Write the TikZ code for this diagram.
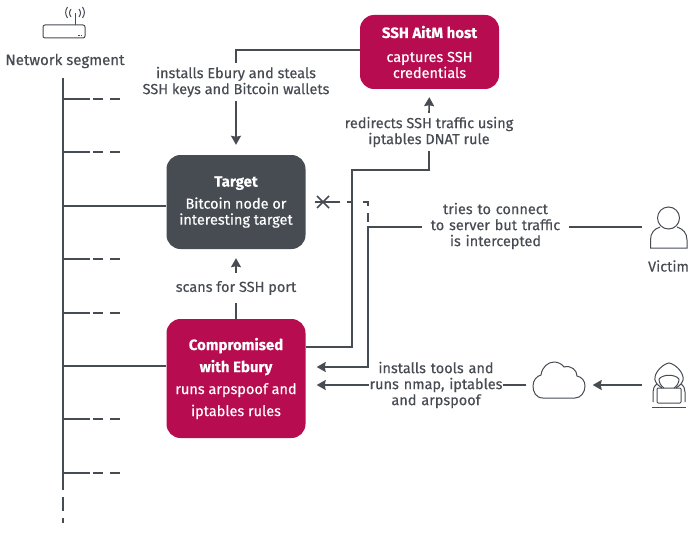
\documentclass[tikz,border=0pt]{standalone}
\usepackage{fontspec}
\setmainfont{Fira Sans}[FakeBold=0.35, BoldFeatures={FakeBold=0.2}]
\usetikzlibrary{arrows.meta}
\definecolor{inkgrey}{HTML}{474B52}
\definecolor{crimson}{HTML}{B70C50}
\newcommand{\boxhead}[1]{{\fontsize{15}{16}\selectfont\bfseries #1}}
\tikzset{
    x=1pt, y=-1pt,
    wire/.style={draw=inkgrey, line width=1.6pt},
    bus/.style={draw=inkgrey, line width=2.2pt},
    stub/.style={wire, dash pattern=on 27pt off 3pt on 10pt off 7pt on 10pt off 100pt},
    arrow/.style={wire, -{Stealth[length=9pt, width=10pt, inset=1pt]}},
    icon/.style={draw=inkgrey, line width=1pt},
    box/.style={rounded corners=14pt, text=white, minimum width=139pt, align=center, font=\fontsize{14.5}{16}\selectfont, inner sep=0pt},
    label/.style={text=inkgrey, align=center, font=\fontsize{14.5}{16}\selectfont, inner sep=0pt},
    spot/.style={inner sep=0pt, minimum height=0pt},
}
\begin{document}
\begin{tikzpicture}
        \useasboundingbox (0, 0) rectangle (700, 532);

        \draw (236, 202) node[box, fill=inkgrey, minimum height=94pt] (target) {\boxhead{Target}\\[6pt]Bitcoin node or\\interesting target};
        \draw (236, 378.5) node[box, fill=crimson, minimum height=119pt, font=\fontsize{14.5}{22}\selectfont] (ebury) {\boxhead{Compromised}\\\boxhead{with Ebury}\\runs arpspoof and\\iptables rules};
        \draw (429.5, 52) node[box, fill=crimson, minimum height=74pt] (aitm) {\boxhead{SSH AitM host}\\[8pt]captures SSH\\credentials};

        \draw (65, 61) node[label, font=\fontsize{15}{16}\selectfont] (segment) {Network segment};
        \draw (236, 82) node[label, minimum height=38pt] (steals) {installs Ebury and steals\\SSH keys and Bitcoin wallets};
        \draw (236, 288) node[label, minimum height=30pt] (scans) {scans for SSH port};
        \draw (429, 132) node[label, minimum height=38pt] (redirects) {redirects SSH traffic using\\iptables DNAT rule};
        \draw (495.5, 226) node[label, text width=147pt] (tries) {tries to connect\\to server but traffic\\is intercepted};
        \draw (436, 385) node[label, text width=134pt] (tools) {installs tools and\\runs nmap, iptables\\and arpspoof};
        \draw (668.5, 266) node[label] (victim) {Victim};

        \draw (559.5, 385) node[spot, minimum width=66pt] (cloud) {};
        \draw (669, 227) node[spot, minimum width=54pt] (person) {};
        \draw (669, 385) node[spot, minimum width=54pt] (hacker) {};

        % network segment
        \coordinate (top) at (63, 78);
        \coordinate (end) at (63, 490);
        \coordinate (tail) at (63, 523);
        \draw[bus] (top) -- (end);
        \draw[bus, dash pattern=on 14pt off 7pt on 12pt off 100pt] (end) ++(0, 7) -- (tail);

        \coordinate (b1) at (63, 99);
        \coordinate (b2) at (63, 152);
        \coordinate (b3) at (63, 206);
        \coordinate (b4) at (63, 259);
        \coordinate (b5) at (63, 313);
        \coordinate (b6) at (63, 366);
        \coordinate (b7) at (63, 419);
        \coordinate (b8) at (63, 473);
        \draw[stub] (b1) -- (120, 99);
        \draw[stub] (b2) -- (120, 152);
        \draw[stub] (b4) -- (120, 259);
        \draw[stub] (b5) -- (120, 313);
        \draw[stub] (b7) -- (120, 419);
        \draw[stub] (b8) -- (120, 473);
        \draw[wire] (b3) -- (target.west |- b3);
        \draw[wire] (b6) -- (ebury.west |- b6);

        % attack flow
        \draw[wire] (aitm.west |- 0, 50) -| (steals.north);
        \draw[arrow, shorten >=10pt] (steals.south) -- (target.north);
        \draw[wire] (ebury.north) -- (scans.south);
        \draw[arrow, shorten >=9pt] (scans.north) -- (target.south);
        \coordinate (bend) at (352, 170);
        \draw[wire] (ebury.east |- 0, 347) -| (bend) -| (redirects.south);
        \draw[arrow, shorten >=8pt] (redirects.north) -- (aitm.south);

        % victim and operator
        \coordinate (drop) at (368, 227);
        \coordinate (stop) at (368, 222);
        \draw[wire] (person.west) -- (tries.east |- person);
        \draw[arrow, shorten >=11pt] (tries.west |- person) -- (drop) |- (ebury.east |- 0, 367);
        \coordinate (cross) at (323, 202);
        \draw[wire, dash pattern=on 17pt off 7pt on 6pt off 10pt on 9pt off 7pt on 9pt off 100pt] (cross) -- (stop |- cross) -- (stop);
        \draw[wire] (cross) ++(-8, 0) -- (cross);
        \draw[wire] (cross) ++(-6, -6) -- ++(12, 12);
        \draw[wire] (cross) ++(-6, 6) -- ++(12, -12);
        \draw[arrow, shorten >=11pt] (tools.west) -- (ebury.east |- tools);
        \draw[wire] (cloud.west) -- (tools.east);
        \draw[arrow] (hacker.west) -- (cloud.east);

        % router
        \draw[icon, rounded corners=2pt] (43, 25) rectangle (85, 38);
        \draw[icon] (75, 25) -- (75, 13);
        \draw[icon] (71, 9) .. controls (69, 12) and (69, 14) .. (71, 17);
        \draw[icon] (79, 9) .. controls (81, 12) and (81, 14) .. (79, 17);
        \draw[icon] (67.5, 7) .. controls (65, 11) and (65, 14) .. (67.5, 18);
        \draw[icon] (82.5, 7) .. controls (85, 11) and (85, 14) .. (82.5, 18);
        \draw[icon, line width=.8pt, dash pattern=on 1.5pt off 1pt] (78, 35) -- (83, 35);

        % cloud
        \draw[icon] (543, 398) .. controls (536, 398) and (533, 392) .. (533, 386)
            .. controls (533, 380) and (537, 376) .. (541, 375)
            .. controls (542, 367) and (548, 362) .. (554, 362)
            .. controls (558, 362) and (562, 364) .. (564, 367)
            .. controls (571, 365) and (577, 370) .. (577, 376)
            .. controls (582, 377) and (585, 381) .. (585, 386)
            .. controls (585, 392) and (581, 398) .. (575, 398) -- cycle;

        % victim
        \draw[icon] (668.5, 218) circle (11pt);
        \draw[icon] (660, 227) .. controls (654, 229) and (650.5, 233) .. (650.5, 240) -- (650.5, 248) -- (687, 248) -- (687, 240) .. controls (687, 233) and (683, 229) .. (677, 227);

        % operator
        \draw[icon] (676, 388) .. controls (681, 385) and (684, 381) .. (683, 377) .. controls (682, 371) and (675, 364) .. (669, 363) .. controls (663, 364) and (656, 371) .. (655, 377) .. controls (654, 381) and (657, 385) .. (662, 388);
        \draw[icon] (659, 379) .. controls (663, 374) and (675, 374) .. (679, 379);
        \draw[icon] (659, 379) .. controls (659, 383) and (661, 386) .. (664, 388);
        \draw[icon] (679, 379) .. controls (679, 383) and (677, 386) .. (674, 388);
        \draw[icon] (657, 384) .. controls (654, 386) and (653, 389) .. (653, 392) -- (653, 402);
        \draw[icon] (681, 384) .. controls (684, 386) and (685, 389) .. (685, 392) -- (685, 402);
        \draw[icon, rounded corners=1pt] (657, 388) rectangle (681, 403);
        \draw[icon] (652, 407) -- (686, 407);
    \end{tikzpicture}
\end{document}
